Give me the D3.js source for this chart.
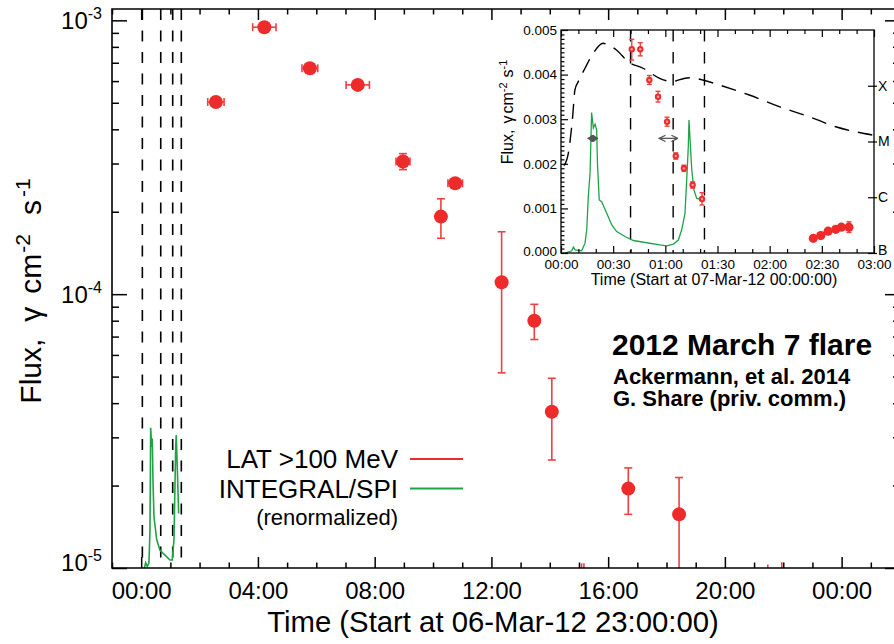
<!DOCTYPE html>
<html><head><meta charset="utf-8">
<script src="https://cdn.jsdelivr.net/npm/d3@7"></script>
<style>
body{margin:0;background:#fff}
svg{display:block}
text{font-family:"Liberation Sans",Arial,Helvetica,sans-serif;fill:#000}
</style>
</head><body>
<svg id="c" width="894" height="644"></svg>
<script>
// ---------------- MAIN PANEL DATA (time in hours after 07-Mar-12 00:00) ----------------
const mainXTickHours = [0, 4, 8, 12, 16, 20, 24];
const mainXTickLabels = ["00:00", "04:00", "08:00", "12:00", "16:00", "20:00", "00:00"];
const mainYTickValues = [1e-5, 1e-4, 1e-3];
const mainYTickExponents = ["-5", "-4", "-3"];

const latHours   = [2.56, 4.22, 5.78, 7.42, 8.97, 10.27, 10.76, 12.35, 13.47, 14.07, 16.69, 18.43];
const latFlux    = [5.03e-4, 9.44e-4, 6.68e-4, 5.81e-4, 3.05e-4, 1.92e-4, 2.54e-4, 1.105e-4, 8.0e-5, 3.72e-5, 1.95e-5, 1.57e-5];
const latFluxLo  = [4.92e-4, 9.30e-4, 6.55e-4, 5.70e-4, 2.85e-4, 1.60e-4, 2.46e-4, 5.16e-5, 6.83e-5, 2.48e-5, 1.57e-5, 5.0e-6];
const latFluxHi  = [5.14e-4, 9.58e-4, 6.80e-4, 5.92e-4, 3.26e-4, 2.23e-4, 2.62e-4, 1.69e-4, 9.18e-5, 4.93e-5, 2.32e-5, 2.14e-5];
const latHourErr = [0.28, 0.40, 0.27, 0.40, 0.24, 0, 0.25, 0, 0, 0, 0, 0];

// upper limits barely reaching the bottom of the plot
const latLimitHours = [15.09, 15.17, 21.47, 21.95];
const latLimitTop   = [1.04e-5, 1.04e-5, 1.03e-5, 1.05e-5];

// INTEGRAL/SPI (renormalized) on main panel
const spiHours = [0.10, 0.154, 0.209, 0.267, 0.301, 0.325, 0.360, 0.380, 0.404, 0.438, 0.531, 0.644, 0.815, 0.986, 1.065, 1.123, 1.182, 1.202, 1.250, 1.284];
const spiFlux  = [0.99e-5, 1.045e-5, 1.013e-5, 1.045e-5, 1.377e-5, 3.25e-5, 2.77e-5, 2.97e-5, 2.09e-5, 1.54e-5, 1.27e-5, 1.16e-5, 1.115e-5, 1.07e-5, 1.07e-5, 1.27e-5, 2.77e-5, 3.06e-5, 2.09e-5, 1.58e-5];

// vertical dashed markers (hours)
const mainMarkerHours = [0.04, 0.67, 1.08, 1.375];

// ---------------- INSET DATA (time in minutes after 07-Mar-12 00:00) ----------------
const insetXTickMinutes = [0, 30, 60, 90, 120, 150, 180];
const insetXTickLabels = ["00:00", "00:30", "01:00", "01:30", "02:00", "02:30", "03:00"];
const insetYTickValues = [0, 0.001, 0.002, 0.003, 0.004, 0.005];
const insetYTickLabels = ["0.000", "0.001", "0.002", "0.003", "0.004", "0.005"];
const goesClassValues = [1e-7, 1e-6, 1e-5, 1e-4];
const goesClassLabels = ["B", "C", "M", "X"];

const insetLatMin  = [40.7, 45.6, 50.8, 55.8, 61.0, 66.0, 70.7, 75.7, 81.1];
const insetLatFlux = [0.004567, 0.004567, 0.003879, 0.003505, 0.002944, 0.002175, 0.001899, 0.001525, 0.001211];
const insetLatLo   = [0.004327, 0.004420, 0.003780, 0.003385, 0.002844, 0.002105, 0.001829, 0.001455, 0.001076];
const insetLatHi   = [0.004791, 0.004715, 0.003980, 0.003625, 0.003044, 0.002245, 0.001969, 0.001595, 0.001352];

const insetLateMin  = [145.1, 149.4, 153.6, 158.0, 161.2, 165.6];
const insetLateFlux = [0.00033, 0.00039, 0.00049, 0.00053, 0.00058, 0.00058];
const insetLateLo   = [0.00033, 0.00039, 0.00049, 0.00053, 0.00058, 0.00046];
const insetLateHi   = [0.00033, 0.00039, 0.00049, 0.00053, 0.00058, 0.00070];

const insetSpiMin  = [2.3, 6.2, 7.1, 8.1, 11.9, 13.8, 14.8, 15.7, 16.7, 17.1, 17.6, 18.6, 19.6, 20.5, 21.0, 22.0, 23.4, 26.3, 29.2, 32.0, 36.8, 41.6, 49.3, 56.9, 60.8, 64.6, 67.5, 69.4, 71.3, 72.3, 73.2, 73.6, 75.2, 76.5, 78.0, 79.9];
const insetSpiFlux = [0.0, 0.00005, 0.00013, 0.00007, 0.00005, 0.00022, 0.00052, 0.00126, 0.00179, 0.00238, 0.00315, 0.00280, 0.00289, 0.00276, 0.00197, 0.00119, 0.00115, 0.00089, 0.00063, 0.00048, 0.00037, 0.00028, 0.00023, 0.00018, 0.00016, 0.00020, 0.00029, 0.00052, 0.00089, 0.00164, 0.00238, 0.00298, 0.00186, 0.00141, 0.00123, 0.00120];

const goesMin  = [1.7, 4.2, 6.7, 8.0, 9.9, 13.8, 18.5, 24.2, 26.2, 31.9, 38.6, 47.2, 56.7, 64.4, 66.3, 73.9, 81.5, 91.1, 108.3, 125.5, 142.7, 158, 179];
const goesFlux = [3.68e-6, 6.14e-6, 2.79e-5, 8.39e-5, 1.18e-4, 2.06e-4, 3.82e-4, 5.77e-4, 5.54e-4, 4.38e-4, 2.70e-4, 2.06e-4, 1.36e-4, 1.18e-4, 1.23e-4, 1.39e-4, 1.27e-4, 1.03e-4, 6.82e-5, 4.21e-5, 2.79e-5, 1.84e-5, 1.31e-5];

const insetMarkerMin = [40, 64.5, 82.5];
const insetArrowStart = [15.5, 56.5];
const insetArrowEnd   = [21.1, 67.1];
const insetArrowFlux  = [0.00257, 0.00257];
const insetArrowDot   = [18.2];

// ---------------- STYLE ----------------
const RED = "#ee2b2b", RED_ERR = "#ef4040", GREEN = "#1fa347";

const svg = d3.select("#c");
const M = {left: 112, right: 900, top: 9, bottom: 568};
const x = d3.scaleLinear().domain([-1, 26]).range([M.left, M.right]);
const y = d3.scaleLog().domain([1e-5, 1.1e-3]).range([M.bottom, M.top]);

const defs = svg.append("defs");
defs.append("clipPath").attr("id", "mclip").append("rect")
  .attr("x", M.left).attr("y", M.top).attr("width", M.right - M.left).attr("height", M.bottom - M.top);

const plot = svg.append("g").attr("clip-path", "url(#mclip)");

// dashed markers
plot.selectAll("line.mk").data(mainMarkerHours).join("line")
  .attr("x1", d => x(d)).attr("x2", d => x(d)).attr("y1", M.top).attr("y2", M.bottom)
  .attr("stroke", "#000").attr("stroke-width", 1.6).attr("stroke-dasharray", "11,10.5");

// SPI line
plot.append("path").datum(d3.range(spiHours.length))
  .attr("fill", "none").attr("stroke", GREEN).attr("stroke-width", 1.6)
  .attr("d", d3.line().x(i => x(spiHours[i])).y(i => y(spiFlux[i])));

// LAT error bars
const cap = 4;
const eb = plot.append("g").attr("stroke", RED_ERR).attr("stroke-width", 1.6);
latHours.forEach((h, i) => {
  const cx = x(h), yl = y(latFluxLo[i]), yh = y(latFluxHi[i]);
  eb.append("line").attr("x1", cx).attr("x2", cx).attr("y1", yl).attr("y2", yh);
  eb.append("line").attr("x1", cx - cap).attr("x2", cx + cap).attr("y1", yh).attr("y2", yh);
  if (latFluxLo[i] > 1e-5) eb.append("line").attr("x1", cx - cap).attr("x2", cx + cap).attr("y1", yl).attr("y2", yl);
  if (latHourErr[i] > 0) {
    const xa = x(h - latHourErr[i]), xb = x(h + latHourErr[i]), cy = y(latFlux[i]);
    eb.append("line").attr("x1", xa).attr("x2", xb).attr("y1", cy).attr("y2", cy);
    eb.append("line").attr("x1", xa).attr("x2", xa).attr("y1", cy - cap).attr("y2", cy + cap);
    eb.append("line").attr("x1", xb).attr("x2", xb).attr("y1", cy - cap).attr("y2", cy + cap);
  }
});
latLimitHours.forEach((h, i) => {
  eb.append("line").attr("x1", x(h)).attr("x2", x(h)).attr("y1", M.bottom).attr("y2", y(latLimitTop[i]));
});
plot.selectAll("circle.lat").data(latHours).join("circle")
  .attr("cx", d => x(d)).attr("cy", (d, i) => y(latFlux[i])).attr("r", 7).attr("fill", RED);

// ---------------- MAIN AXES ----------------
const minorHours = d3.range(-1, 27).filter(h => !mainXTickHours.includes(h));
const minorY = [];
[1e-5, 1e-4].forEach(dec => { for (let k = 2; k <= 9; k++) minorY.push(k * dec); });

function clean(g) { g.select(".domain").remove(); g.selectAll("line").attr("stroke", "#000").attr("stroke-width", 1.5); }

svg.append("g").attr("transform", `translate(0,${M.bottom})`)
  .call(d3.axisBottom(x).tickValues(mainXTickHours).tickSizeInner(-11).tickSizeOuter(0).tickPadding(14)
    .tickFormat((d, i) => mainXTickLabels[i]))
  .call(clean)
  .call(g => g.selectAll("text").attr("font-size", 24).attr("font-family", "Liberation Sans, Arial, sans-serif"));
svg.append("g").attr("transform", `translate(0,${M.bottom})`)
  .call(d3.axisBottom(x).tickValues(minorHours).tickSizeInner(-5.5).tickSizeOuter(0).tickFormat("")).call(clean);
svg.append("g").attr("transform", `translate(0,${M.top})`)
  .call(d3.axisTop(x).tickValues(mainXTickHours).tickSizeInner(-11).tickSizeOuter(0).tickFormat("")).call(clean);
svg.append("g").attr("transform", `translate(0,${M.top})`)
  .call(d3.axisTop(x).tickValues(minorHours).tickSizeInner(-5.5).tickSizeOuter(0).tickFormat("")).call(clean);

svg.append("g").attr("transform", `translate(${M.left},0)`)
  .call(d3.axisLeft(y).tickValues(mainYTickValues).tickSizeInner(-15).tickSizeOuter(0).tickFormat("")).call(clean);
svg.append("g").attr("transform", `translate(${M.left},0)`)
  .call(d3.axisLeft(y).tickValues(minorY).tickSizeInner(-7).tickSizeOuter(0).tickFormat("")).call(clean);
svg.append("g").attr("transform", `translate(${M.right},0)`)
  .call(d3.axisRight(y).tickValues(mainYTickValues).tickSizeInner(-15).tickSizeOuter(0).tickFormat("")).call(clean);
svg.append("g").attr("transform", `translate(${M.right},0)`)
  .call(d3.axisRight(y).tickValues(minorY).tickSizeInner(-7).tickSizeOuter(0).tickFormat("")).call(clean);

// frame
svg.append("path").attr("fill", "none").attr("stroke", "#000").attr("stroke-width", 1.6)
  .attr("d", `M${M.right},${M.top}H${M.left}V${M.bottom}H${M.right}`);

// y tick labels 10^n
mainYTickValues.forEach((v, i) => {
  const ty = y(v) + (i === 0 ? 3 : 8.5);
  const t = svg.append("text").attr("x", 102).attr("y", ty).attr("text-anchor", "end").attr("font-size", 24);
  t.append("tspan").text("10");
  t.append("tspan").attr("dy", -10).attr("font-size", 16).text(mainYTickExponents[i]);
});

// axis titles
svg.append("text").attr("x", 493).attr("y", 632).attr("text-anchor", "middle").attr("font-size", 29.3)
  .text("Time (Start at 06-Mar-12 23:00:00)");
const yt = svg.append("text").attr("transform", "translate(41,291) rotate(-90)").attr("text-anchor", "middle").attr("font-size", 30);
yt.append("tspan").text("Flux,");
yt.append("tspan").attr("dx", 17).text("γ");
yt.append("tspan").attr("dx", 13).text("cm");
yt.append("tspan").attr("dy", -11).attr("dx", 1).attr("font-size", 21).text("-2");
yt.append("tspan").attr("dy", 11).attr("dx", 19).text("s");
yt.append("tspan").attr("dy", -11).attr("dx", 3).attr("font-size", 21).text("-1");

// legend
const legNames = ["LAT >100 MeV", "INTEGRAL/SPI"];
const legColors = [RED, GREEN];
const legY = [459, 488.5];
legNames.forEach((n, i) => {
  svg.append("text").attr("x", 398).attr("y", legY[i] + 9.3).attr("text-anchor", "end").attr("font-size", 26).text(n);
  svg.append("line").attr("x1", 410).attr("x2", 463).attr("y1", legY[i]).attr("y2", legY[i])
    .attr("stroke", legColors[i]).attr("stroke-width", 2);
});
svg.append("text").attr("x", 398).attr("y", 525).attr("text-anchor", "end").attr("font-size", 22).text("(renormalized)");

// annotation
svg.append("text").attr("x", 612).attr("y", 355).attr("font-size", 30).attr("font-weight", "bold").text("2012 March 7 flare");
svg.append("text").attr("x", 613).attr("y", 384).attr("font-size", 22).attr("font-weight", "bold").text("Ackermann, et al. 2014");
svg.append("text").attr("x", 613).attr("y", 405.5).attr("font-size", 22).attr("font-weight", "bold").text("G. Share (priv. comm.)");

// ---------------- INSET ----------------
const I = {left: 561, right: 874, top: 30, bottom: 253};
const ix = d3.scaleLinear().domain([0, 180]).range([I.left, I.right]);
const iy = d3.scaleLinear().domain([0, 0.005]).range([I.bottom, I.top]);
const ig = d3.scaleLog().domain([1e-7, 1e-3]).range([I.bottom, I.top]);

defs.append("clipPath").attr("id", "iclip").append("rect")
  .attr("x", I.left).attr("y", I.top).attr("width", I.right - I.left).attr("height", I.bottom - I.top);
defs.append("marker").attr("id", "ah").attr("viewBox", "0 0 10 10").attr("refX", 9).attr("refY", 5)
  .attr("markerWidth", 6).attr("markerHeight", 6).attr("orient", "auto-start-reverse")
  .append("path").attr("d", "M1,1L9,5L1,9").attr("fill", "none").attr("stroke", "#555").attr("stroke-width", 1.6);

svg.append("rect").attr("x", I.left).attr("y", I.top).attr("width", I.right - I.left).attr("height", I.bottom - I.top).attr("fill", "#fff");
const ip = svg.append("g").attr("clip-path", "url(#iclip)");

ip.selectAll("line.imk").data(insetMarkerMin).join("line")
  .attr("x1", d => ix(d)).attr("x2", d => ix(d)).attr("y1", I.top).attr("y2", I.bottom)
  .attr("stroke", "#000").attr("stroke-width", 1.4).attr("stroke-dasharray", "11.5,10.5");

ip.append("path").datum(d3.range(goesMin.length))
  .attr("fill", "none").attr("stroke", "#000").attr("stroke-width", 1.4).attr("stroke-dasharray", "15,9")
  .attr("d", d3.line().curve(d3.curveMonotoneX).x(i => ix(goesMin[i])).y(i => ig(goesFlux[i])));

ip.append("path").datum(d3.range(insetSpiMin.length))
  .attr("fill", "none").attr("stroke", GREEN).attr("stroke-width", 1.3)
  .attr("d", d3.line().x(i => ix(insetSpiMin[i])).y(i => iy(insetSpiFlux[i])));

insetArrowStart.forEach((s, i) => {
  ip.append("line").attr("x1", ix(s)).attr("x2", ix(insetArrowEnd[i])).attr("y1", iy(insetArrowFlux[i])).attr("y2", iy(insetArrowFlux[i]))
    .attr("stroke", "#555").attr("stroke-width", 1.3).attr("marker-start", "url(#ah)").attr("marker-end", "url(#ah)");
});
insetArrowDot.forEach(d => ip.append("circle").attr("cx", ix(d)).attr("cy", iy(insetArrowFlux[0])).attr("r", 3.2).attr("fill", "#555"));

const ieb = ip.append("g").attr("stroke", RED_ERR).attr("stroke-width", 1.4);
insetLatMin.forEach((t, i) => {
  const cx = ix(t), yl = iy(insetLatLo[i]), yh = iy(insetLatHi[i]);
  ieb.append("line").attr("x1", cx).attr("x2", cx).attr("y1", yl).attr("y2", yh);
  ieb.append("line").attr("x1", cx - 2.5).attr("x2", cx + 2.5).attr("y1", yl).attr("y2", yl);
  ieb.append("line").attr("x1", cx - 2.5).attr("x2", cx + 2.5).attr("y1", yh).attr("y2", yh);
});
insetLateMin.forEach((t, i) => {
  if (insetLateHi[i] > insetLateLo[i]) {
    const cx = ix(t), yl = iy(insetLateLo[i]), yh = iy(insetLateHi[i]);
    ieb.append("line").attr("x1", cx).attr("x2", cx).attr("y1", yl).attr("y2", yh);
    ieb.append("line").attr("x1", cx - 2.5).attr("x2", cx + 2.5).attr("y1", yl).attr("y2", yl);
    ieb.append("line").attr("x1", cx - 2.5).attr("x2", cx + 2.5).attr("y1", yh).attr("y2", yh);
  }
});
ip.selectAll("circle.il").data(insetLatMin).join("circle")
  .attr("cx", d => ix(d)).attr("cy", (d, i) => iy(insetLatFlux[i])).attr("r", 3.2).attr("fill", RED);
ip.selectAll("circle.ilc").data(insetLatMin).join("circle")
  .attr("cx", d => ix(d)).attr("cy", (d, i) => iy(insetLatFlux[i])).attr("r", 1.2).attr("fill", "#f9a0a0");
ip.selectAll("circle.ilate").data(insetLateMin).join("circle")
  .attr("cx", d => ix(d)).attr("cy", (d, i) => iy(insetLateFlux[i])).attr("r", 4.6).attr("fill", RED);

// inset axes
const iMinorX = d3.range(0, 181, 10).filter(m => !insetXTickMinutes.includes(m));
const iMinorY = d3.range(0, 51).map(k => k * 0.0001).filter((v, k) => k % 10 !== 0);
function cleanI(g) { g.select(".domain").remove(); g.selectAll("line").attr("stroke", "#000").attr("stroke-width", 1.2); }

svg.append("g").attr("transform", `translate(0,${I.bottom})`)
  .call(d3.axisBottom(ix).tickValues(insetXTickMinutes).tickSizeInner(-7).tickSizeOuter(0).tickPadding(6)
    .tickFormat((d, i) => insetXTickLabels[i])).call(cleanI)
  .call(g => g.selectAll("text").attr("font-size", 13.5).attr("font-family", "Liberation Sans, Arial, sans-serif"));
svg.append("g").attr("transform", `translate(0,${I.bottom})`)
  .call(d3.axisBottom(ix).tickValues(iMinorX).tickSizeInner(-4).tickSizeOuter(0).tickFormat("")).call(cleanI);
svg.append("g").attr("transform", `translate(0,${I.top})`)
  .call(d3.axisTop(ix).tickValues(insetXTickMinutes).tickSizeInner(-7).tickSizeOuter(0).tickFormat("")).call(cleanI);
svg.append("g").attr("transform", `translate(0,${I.top})`)
  .call(d3.axisTop(ix).tickValues(iMinorX).tickSizeInner(-4).tickSizeOuter(0).tickFormat("")).call(cleanI);

svg.append("g").attr("transform", `translate(${I.left},0)`)
  .call(d3.axisLeft(iy).tickValues(insetYTickValues).tickSizeInner(-7).tickSizeOuter(0).tickPadding(4)
    .tickFormat((d, i) => insetYTickLabels[i])).call(cleanI)
  .call(g => g.selectAll("text").attr("font-size", 13.5).attr("font-family", "Liberation Sans, Arial, sans-serif"))
  .call(g => g.selectAll(".tick text").filter((d, i) => i === 0).attr("dy", "0.2em"));
svg.append("g").attr("transform", `translate(${I.left},0)`)
  .call(d3.axisLeft(iy).tickValues(iMinorY).tickSizeInner(-3.5).tickSizeOuter(0).tickFormat("")).call(cleanI);

svg.append("g").attr("transform", `translate(${I.right},0)`)
  .call(d3.axisRight(ig).tickValues(goesClassValues).tickSizeInner(3).tickSizeOuter(0).tickPadding(1)
    .tickFormat((d, i) => goesClassLabels[i])).call(cleanI)
  .call(g => g.selectAll("line").attr("x1", -6))
  .call(g => g.selectAll("text").attr("font-size", 14).attr("font-family", "Liberation Sans, Arial, sans-serif"))
  .call(g => g.selectAll(".tick text").filter((d, i) => i === 0).attr("dy", "0.1em"));

svg.append("rect").attr("x", I.left).attr("y", I.top).attr("width", I.right - I.left).attr("height", I.bottom - I.top)
  .attr("fill", "none").attr("stroke", "#000").attr("stroke-width", 1.3);

svg.append("text").attr("x", 714).attr("y", 285).attr("text-anchor", "middle").attr("font-size", 16)
  .text("Time (Start at 07-Mar-12 00:00:00)");
const iyt = svg.append("text").attr("transform", "translate(513,112) rotate(-90)").attr("text-anchor", "middle").attr("font-size", 16);
iyt.append("tspan").text("Flux,");
iyt.append("tspan").attr("dx", 6).text("γ");
iyt.append("tspan").attr("dx", 2).text("cm");
iyt.append("tspan").attr("dy", -6).attr("font-size", 11).text("-2");
iyt.append("tspan").attr("dy", 6).attr("dx", 5).text("s");
iyt.append("tspan").attr("dy", -6).attr("font-size", 11).text("-1");
</script>
</body></html>
